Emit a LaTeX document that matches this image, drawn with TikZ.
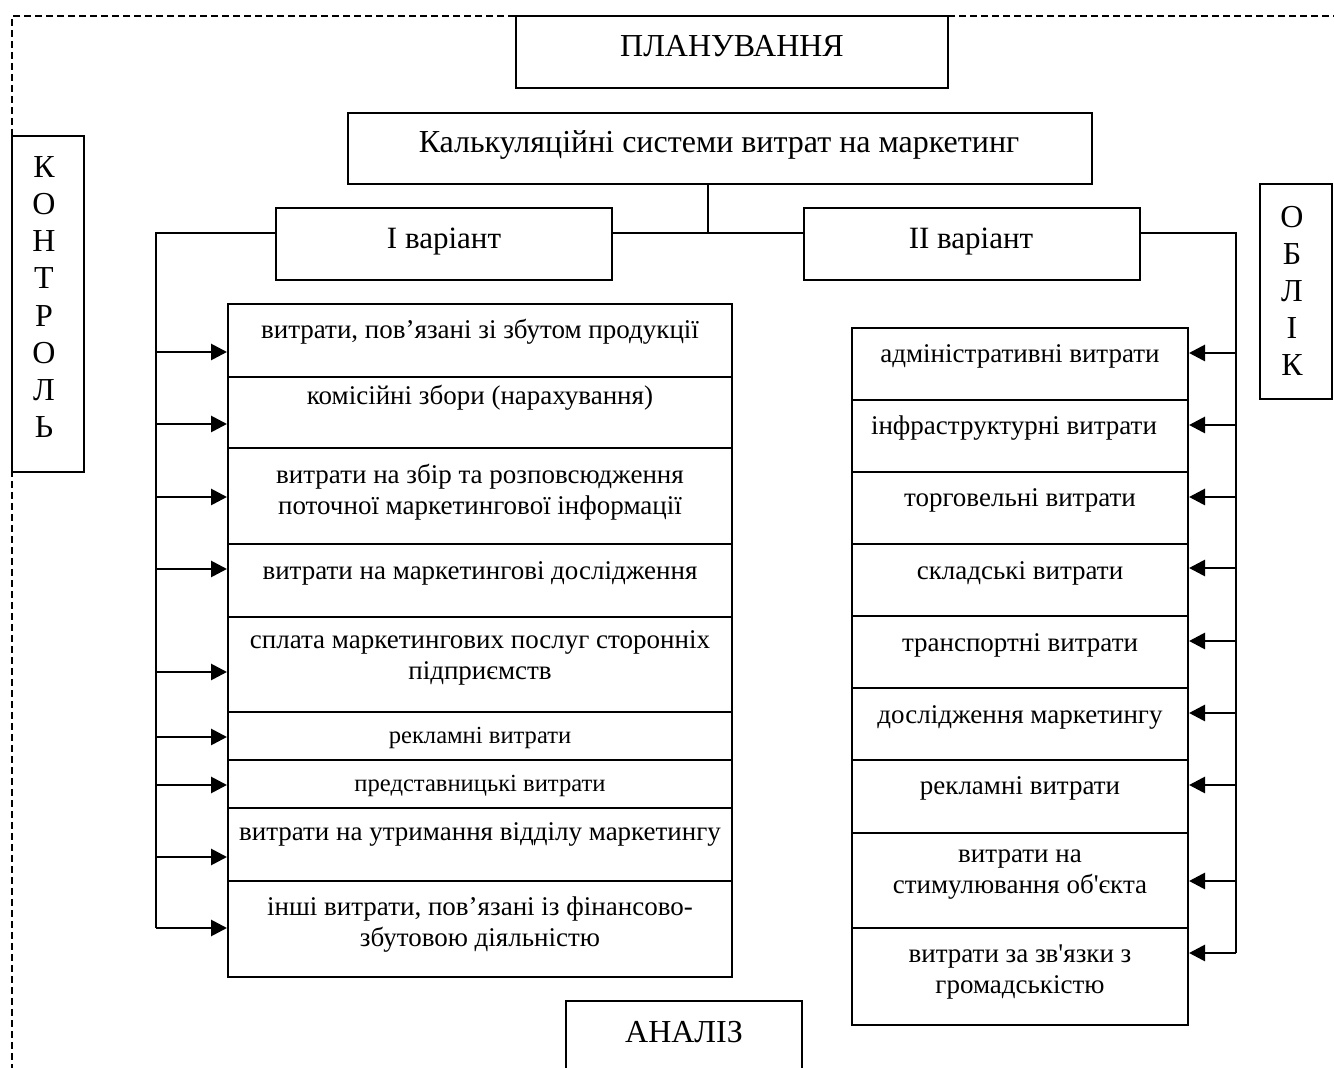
\documentclass[tikz,border=0pt]{standalone}
\usepackage{fontspec}
\setmainfont{Liberation Serif}[Ligatures=TeXOff]
\usetikzlibrary{arrows.meta,fit}
\begin{document}
\begin{tikzpicture}[x=0.5pt,y=-0.5pt,
  box/.style={draw, line width=1pt, fill=white, inner sep=0pt},
  head/.style={font=\fontsize{16}{19}\selectfont, inner sep=0pt, align=center},
  lt/.style={font=\fontsize{13.5}{15.5}\selectfont, inner sep=0pt, align=center},
  st/.style={font=\fontsize{12.3}{14}\selectfont, inner sep=0pt, align=center},
  vt/.style={font=\fontsize{16}{18.6}\selectfont, inner sep=0pt, align=center},
  conn/.style={line width=1pt},
  arr/.style={line width=1.4pt, -{Triangle[length=8pt,width=8pt]}},
  border/.style={dashed, dash pattern=on 3.5pt off 2pt, line width=1pt}]
\clip (0,0) rectangle (1334,1068);
\useasboundingbox (0,0) rectangle (1334,1068);
\fill[white] (0,0) rectangle (1334,1068);
% dashed frame
\coordinate (fTL) at (12,16);
\coordinate (fTR) at (1340,16);
\coordinate (fBL) at (12,1075);
\draw[border] (fTR) -- (fTL) -- (fBL);
% top boxes
\node[box, fit={(516,16) (948,88)}] (plan) {};
\node[head] (plant) at (732,46) {ПЛАНУВАННЯ};
\node[box, fit={(348,113) (1092,184)}] (kalk) {};
\node[head] (kalkt) at (719,145) {Калькуляційні системи витрат на маркетинг};
\node[box, fit={(276,208) (612,280)}] (v1) {};
\node[head, font=\fontsize{15.5}{18}\selectfont] (v1t) at (444,242) {I варіант};
\node[box, fit={(804,208) (1140,280)}] (v2) {};
\node[head, font=\fontsize{15.5}{18}\selectfont] (v2t) at (971,242) {II варіант};
% side boxes
\node[box, fit={(12,136) (84,472)}] (kontr) {};
\node[vt] (kontrt) at (44,297) {К\\О\\Н\\Т\\Р\\О\\Л\\Ь};
\node[box, fit={(1260,184) (1332,399)}] (oblik) {};
\node[vt] (oblikt) at (1292,291) {О\\Б\\Л\\І\\К};
\node[box, fit={(566,1001) (802,1090)}] (anal) {};
\node[head] (analt) at (684,1032) {АНАЛІЗ};
% left list
\node[box, fit={(228,304) (732,377)}] (L1) {};
\node[lt] (L1t) at (480,332) {витрати, пов’язані зі збутом продукції};
\node[box, fit={(228,377) (732,448)}] (L2) {};
\node[lt] (L2t) at (480,398) {комісійні збори (нарахування)};
\node[box, fit={(228,448) (732,544)}] (L3) {};
\node[lt] (L3t) at (480,492) {витрати на збір та розповсюдження\\поточної маркетингової інформації};
\node[box, fit={(228,544) (732,617)}] (L4) {};
\node[lt] (L4t) at (480,573) {витрати на маркетингові дослідження};
\node[box, fit={(228,617) (732,712)}] (L5) {};
\node[lt] (L5t) at (480,658) {сплата маркетингових послуг сторонніх\\підприємств};
\node[box, fit={(228,712) (732,760)}] (L6) {};
\node[st] (L6t) at (480,738) {рекламні витрати};
\node[box, fit={(228,760) (732,808)}] (L7) {};
\node[st] (L7t) at (480,786) {представницькі витрати};
\node[box, fit={(228,808) (732,881)}] (L8) {};
\node[lt] (L8t) at (480,834) {витрати на утримання відділу маркетингу};
\node[box, fit={(228,881) (732,977)}] (L9) {};
\node[lt] (L9t) at (480,925) {інші витрати, пов’язані із фінансово-\\збутовою діяльністю};
% right list
\node[box, fit={(852,328) (1188,400)}] (R1) {};
\node[lt] (R1t) at (1020,356) {адміністративні витрати};
\node[box, fit={(852,400) (1188,472)}] (R2) {};
\node[lt] (R2t) at (1014,428) {інфраструктурні витрати};
\node[box, fit={(852,472) (1188,544)}] (R3) {};
\node[lt] (R3t) at (1020,500) {торговельні витрати};
\node[box, fit={(852,544) (1188,616)}] (R4) {};
\node[lt] (R4t) at (1020,573) {складські витрати};
\node[box, fit={(852,616) (1188,688)}] (R5) {};
\node[lt] (R5t) at (1020,645) {транспортні витрати};
\node[box, fit={(852,688) (1188,760)}] (R6) {};
\node[lt] (R6t) at (1020,717) {дослідження маркетингу};
\node[box, fit={(852,760) (1188,833)}] (R7) {};
\node[lt] (R7t) at (1020,788) {рекламні витрати};
\node[box, fit={(852,833) (1188,928)}] (R8) {};
\node[lt] (R8t) at (1020,875) {витрати на\\стимулювання об'єкта};
\node[box, fit={(852,928) (1188,1025)}] (R9) {};
\node[lt] (R9t) at (1020,972) {витрати за зв'язки з\\громадськістю};
% connectors
\coordinate (J) at (708,233);
\coordinate (LT) at (156,233);
\coordinate (LB) at (156,928);
\coordinate (RT) at (1236,233);
\coordinate (RB) at (1236,953);
\draw[conn] (kalk.south -| J) -- (J);
\draw[conn] (v1.east |- J) -- (v2.west |- J);
\draw[conn] (v1.west |- LT) -- (LT) -- (LB);
\draw[conn] (v2.east |- RT) -- (RT) -- (RB);
\foreach \n/\y in {L1/352,L2/424,L3/497,L4/569,L5/672,L6/737,L7/785,L8/857,L9/928}{
  \coordinate (a\n) at (156,\y);
  \draw[arr] (a\n) -- (\n.west |- a\n);
}
\foreach \n/\y in {R1/353,R2/425,R3/497,R4/568,R5/641,R6/713,R7/785,R8/881,R9/953}{
  \coordinate (a\n) at (1236,\y);
  \draw[arr] (a\n) -- (\n.east |- a\n);
}
\end{tikzpicture}
\end{document}
